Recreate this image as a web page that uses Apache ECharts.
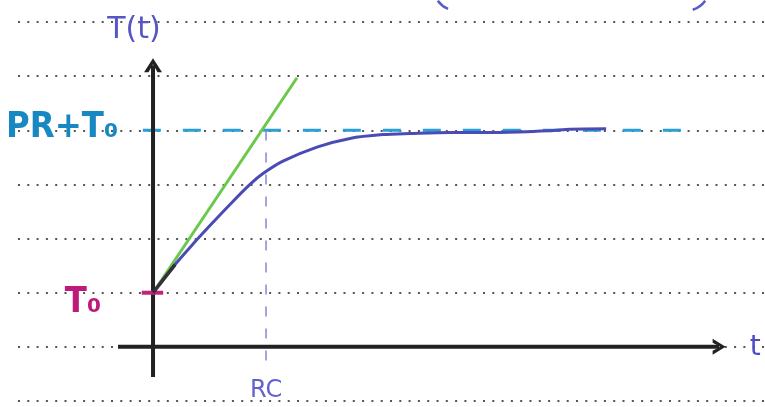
<!DOCTYPE html>
<html>
<head>
<meta charset="utf-8">
<script src="https://cdn.jsdelivr.net/npm/echarts@6/dist/echarts.min.js"></script>
<style>html,body{margin:0;padding:0;background:#fff}#c{width:765px;height:407px}</style>
</head>
<body>
<div id="c"></div>
<script>
// time in units of RC, temperature in grid units (T0 = 1, PR+T0 = 4)
const tValues    = [0, 0.195, 0.354, 0.504, 0.681, 0.858, 0.973, 1.15, 1.451, 1.743, 2.035, 2.274, 2.628, 3.07, 3.51, 3.69, 4.01];
const tempValues = [1, 1.52, 1.90, 2.24, 2.63, 3.00, 3.20, 3.43, 3.69, 3.85, 3.92, 3.94, 3.96, 3.96, 3.99, 4.02, 4.03];
const tangentT   = [0, 1.274];
const tangentY   = [1, 4.97];
const T0 = 1;
const PRT0 = 4;
const RC = 1;
const labelTexts = { temp: 'T(t)', top: 'PR+T₀', base: 'T₀', rc: 'RC', time: 't' };

const chart = echarts.init(document.getElementById('c'), null, {renderer: 'canvas'});
const chevronRight = 'path://M0,0 L12,7 L0,14 L0,10.5 L7,7 L0,3.5 Z';
const chevronUp = 'path://M0,12 L7,0 L14,12 L10.5,12 L7,5 L3.5,12 Z';

function lbl(x, y, text, color, size, weight, family) {
  return {
    value: [x, y],
    itemStyle: {opacity: 1},
    label: {show: true, position: 'inside', formatter: text, color: color, opacity: 1,
      fontSize: size, fontWeight: weight || 'normal', fontFamily: family || 'DejaVu Sans'}
  };
}

chart.setOption({
  animation: false,
  backgroundColor: '#ffffff',
  grid: {left: 18, right: 0, top: 22, bottom: 6},
  xAxis: {type: 'value', min: -1.195, max: 5.416, axisLine: {show: false}, axisTick: {show: false},
          axisLabel: {show: false}, splitLine: {show: false}},
  yAxis: {type: 'value', min: -1, max: 6, interval: 1, axisLine: {show: false}, axisTick: {show: false},
          axisLabel: {show: false},
          splitLine: {show: true, lineStyle: {color: '#555', width: 2, type: [2, 7.3]}}},
  graphic: [
    {type: 'arc', shape: {cx: 458, cy: -14, r: 25, startAngle: 0.63 * Math.PI, endAngle: 0.8 * Math.PI},
     style: {stroke: '#5a5ac8', lineWidth: 2.5, fill: null}},
    {type: 'arc', shape: {cx: 685, cy: -14, r: 25, startAngle: 0.2 * Math.PI, endAngle: 0.4 * Math.PI},
     style: {stroke: '#5a5ac8', lineWidth: 2.5, fill: null}}
  ],
  series: [
    {name: 'PR+T0', type: 'line', symbol: 'none', silent: true,
     data: [[-0.09, PRT0], [4.8, PRT0]],
     lineStyle: {color: '#2a9fd6', width: 3, type: [18, 22]}},
    {name: 'RC marker', type: 'line', symbol: 'none', silent: true,
     data: [[RC, -0.25], [RC, PRT0]],
     lineStyle: {color: '#8585d6', width: 1.5, type: [10, 12]}},
    {name: 'x axis', type: 'line', silent: true, z: 5,
     data: [{value: [-0.31, 0], symbol: 'none'},
            {value: [5.01, 0], symbol: chevronRight, symbolSize: [13, 16]}],
     showSymbol: true,
     itemStyle: {color: '#222'},
     lineStyle: {color: '#222', width: 4}},
    {name: 'y axis', type: 'line', silent: true, z: 5,
     data: [{value: [0, -0.555], symbol: 'none'},
            {value: [0, 5.2], symbol: chevronUp, symbolSize: [18, 14]}],
     showSymbol: true,
     itemStyle: {color: '#222'},
     lineStyle: {color: '#222', width: 4}},
    {name: 'T0 tick', type: 'line', symbol: 'none', silent: true, z: 6,
     data: [[-0.1, T0], [0.09, T0]],
     lineStyle: {color: '#c2237f', width: 4}},
    {name: 'tangent', type: 'line', symbol: 'none', silent: true, z: 3,
     data: tangentT.map((t, i) => [t, tangentY[i]]),
     lineStyle: {color: '#6cc84a', width: 3}},
    {name: 'T(t)', type: 'line', symbol: 'none', silent: true, smooth: 0.3, z: 4,
     data: tValues.map((t, i) => [t, tempValues[i]]),
     lineStyle: {color: '#4b4bb5', width: 3}},
    {name: 'start', type: 'line', symbol: 'none', silent: true, z: 6,
     data: tValues.slice(0, 2).map((t, i) => [t, tempValues[i]]),
     lineStyle: {color: '#333', width: 3.5}},
    {name: 'labels', type: 'scatter', symbolSize: 0, silent: true, z: 10,
     itemStyle: {opacity: 1},
     data: [
       lbl(-0.168, 5.85, labelTexts.temp, '#5656c4', 30, 'normal'),
       lbl(-0.805, 4.04, labelTexts.top, '#1788c2', 36, 'bold', 'DejaVu Sans Condensed'),
       lbl(-0.62, 0.81, labelTexts.base, '#bd1a7c', 36, 'bold', 'DejaVu Sans Condensed'),
       lbl(RC, -0.81, labelTexts.rc, '#6262cc', 24, 'normal'),
       lbl(5.33, -0.02, labelTexts.time, '#4c4cc6', 28, 'normal')
     ]}
  ]
});
</script>
</body>
</html>
